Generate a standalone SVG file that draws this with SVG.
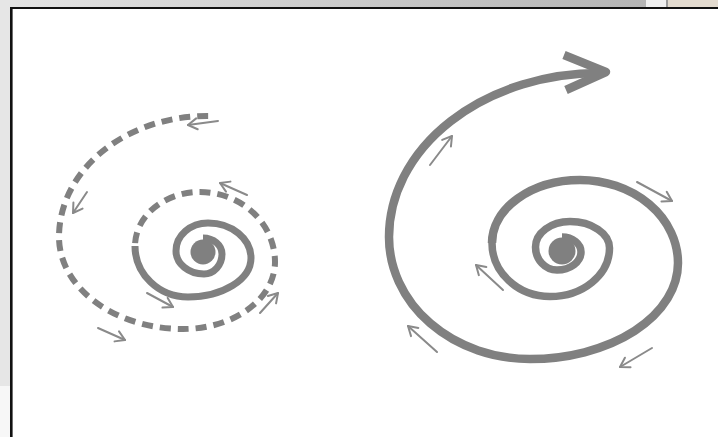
<svg xmlns="http://www.w3.org/2000/svg" width="718" height="437" viewBox="0 0 718 437">
<style>
.sp{fill:none;stroke:#808080;stroke-linecap:butt;stroke-linejoin:round}
.dash{stroke-dasharray:11 7;stroke-dashoffset:15}
.sa{fill:none;stroke:#8a8a8a;stroke-width:2;stroke-linecap:round;marker-end:url(#ah)}
.blob{fill:#808080}
</style>
<defs>
<linearGradient id="tg" x1="0" y1="0" x2="1" y2="0">
<stop offset="0" stop-color="#e4e4e4"/>
<stop offset="1" stop-color="#b4b4b4"/>
</linearGradient>
<marker id="ah" markerWidth="14" markerHeight="14" refX="12" refY="7" orient="auto" markerUnits="userSpaceOnUse">
<path d="M3,1.5 L12,7 L3,12.5" fill="none" stroke="#8a8a8a" stroke-width="2" stroke-linecap="round" stroke-linejoin="round"/>
</marker>
</defs>
<g id="frame">
<rect x="0" y="0" width="718" height="437" fill="#ffffff"/>
<rect x="0" y="0" width="646" height="8" fill="url(#tg)"/>
<rect x="646" y="0" width="20" height="8" fill="#efefef"/>
<rect x="666" y="0" width="2" height="8" fill="#9a9a9a"/>
<rect x="668" y="0" width="50" height="8" fill="#e3dbcf"/>
<rect x="0" y="0" width="10" height="386" fill="#e6e6e6"/>
<rect x="0" y="386" width="10" height="51" fill="#f7f7f7"/>
<rect x="10" y="7" width="708" height="2" fill="#111"/>
<rect x="10" y="7" width="2.6" height="430" fill="#111"/>
</g>
<g id="converging-spiral">
<circle class="blob" cx="203" cy="252" r="12.5"/>
<path class="sp" stroke-width="7" d="M203,238 A19 16 0 0 1 222,254 A18 20 0 0 1 204,274 A28 23 0 0 1 176,251 A32 28 0 0 1 208,223 A43 35 0 0 1 251,258 A63 39 0 0 1 188,297 A53 51 0 0 1 135,246"/>
<path class="sp dash" stroke-width="6" d="M135,246 A65 54 0 0 1 200,192 A75 70 0 0 1 275,262 A92 67 0 0 1 183,329 A124 92 0 0 1 59,237 A148 121 0 0 1 207,116 L215,116"/>
</g>
<g id="diverging-spiral">
<circle class="blob" cx="562" cy="251" r="13.5"/>
<path class="sp" stroke-width="7.5" d="M562,237 A19 15 0 0 1 581,252 A24 18 0 0 1 557,270 A21.5 23 0 0 1 535.5,247 A34.5 25.5 0 0 1 570,221.5 A39.5 26.5 0 0 1 609.5,248 A59.5 48.5 0 0 1 550,296.5 A58 53.5 0 0 1 492,243"/>
<path class="sp" stroke-width="8.5" d="M492,243 A88 63 0 0 1 580,180 A98 83 0 0 1 678,263 A148 96 0 0 1 530,359 A141 122 0 0 1 389,237 A211 164 0 0 1 600,73 L604,72.5"/>
<polyline class="sp" stroke-width="8.5" stroke-linecap="round" points="564,55 606,72 566,90"/>
</g>
<g id="connectors">
<line class="sa" x1="218" y1="121" x2="188" y2="125"/>
<line class="sa" x1="87" y1="192" x2="73" y2="213"/>
<line class="sa" x1="247" y1="195" x2="220" y2="183"/>
<line class="sa" x1="147" y1="293" x2="173" y2="307"/>
<line class="sa" x1="260" y1="313" x2="278" y2="293"/>
<line class="sa" x1="98" y1="328" x2="125" y2="340"/>
<line class="sa" x1="430" y1="165" x2="452" y2="136"/>
<line class="sa" x1="637" y1="182" x2="672" y2="201"/>
<line class="sa" x1="503" y1="290" x2="476" y2="265"/>
<line class="sa" x1="437" y1="352" x2="408" y2="326"/>
<line class="sa" x1="652" y1="348" x2="620" y2="367"/>
</g>
</svg>
